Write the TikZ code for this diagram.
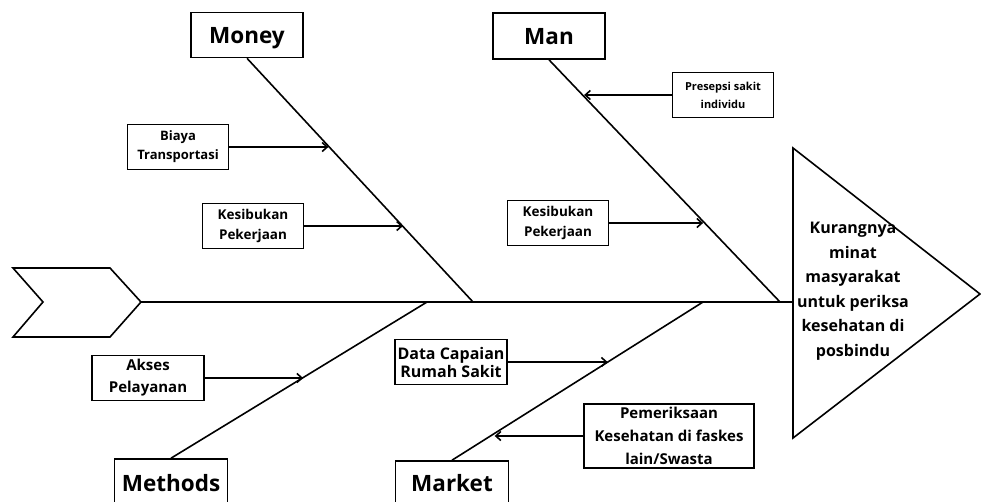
\documentclass[tikz,border=0pt]{standalone}
\usepackage{fontspec}
\setmainfont{Open Sans}
\usetikzlibrary{arrows.meta}
\begin{document}
\begin{tikzpicture}[x=1pt,y=-1pt,
	line width=1.6pt,
	cat/.style={draw,minimum width=112pt,minimum height=45pt,inner sep=0pt,text depth=0pt,font=\bfseries\fontsize{22.5}{27}\selectfont},
	cause/.style n args={3}{draw,align=center,inner sep=0pt,minimum height=45pt,minimum width=#1,font=\bfseries\fontsize{#2}{#3}\selectfont},
	bone/.style={-},
	sub/.style={-{Straight Barb[length=5pt,width=9pt]}}
	]
	\useasboundingbox (0,0) rectangle (981,501);
	
	% tail and head
	\draw (13,268) -- (110,268) -- (141,302) -- (110,337) -- (13,337) -- (43,302) -- cycle;
	\coordinate (tail) at (141,302);
	\draw (793,148) -- (980,294) -- (793,438) -- cycle;
	\coordinate (head) at (793,302);
	\node[align=center,font=\bfseries\fontsize{16}{24.5}\selectfont] (effect) at (853,291) {Kurangnya\\minat\\masyarakat\\untuk periksa\\kesehatan di\\posbindu};
	\draw[bone] (tail) -- (head);
	
	% categories
	\node[cat] (money) at (247,35) {Money};
	\node[cat,minimum height=46pt] (man) at (549,36) {Man};
	\node[cat,minimum height=48pt,minimum width=113pt] (methods) at (171,483) {Methods};
	\node[cat,minimum height=44pt,minimum width=113pt] (market) at (452,483) {Market};
	
	\coordinate (moneyEnd) at (473,302);
	\coordinate (manEnd) at (780,302);
	\coordinate (methodsEnd) at (427,302);
	\coordinate (marketEnd) at (703,302);
	
	\draw[bone] (money.south) -- (moneyEnd) coordinate[pos=0.36] (mo1) coordinate[pos=0.69] (mo2);
	\draw[bone] (man.south) -- (manEnd) coordinate[pos=0.152] (ma1) coordinate[pos=0.667] (ma2);
	\draw[bone] (methods.north) -- (methodsEnd) coordinate[pos=0.516] (me1);
	\draw[bone] (market.north) -- (marketEnd) coordinate[pos=0.62] (mk1) coordinate[pos=0.17] (mk2);
	
	% causes
	\node[cause={101pt}{13}{19}] (biaya) at (178,147) {Biaya\\Transportasi};
	\node[cause={101pt}{13.5}{20}] (sibukMoney) at (253,226) {Kesibukan\\Pekerjaan};
	\node[cause={101pt}{11}{18}] (presepsi) at (723,95) {Presepsi sakit\\individu};
	\node[cause={101pt}{13.5}{20}] (sibukMan) at (558,223) {Kesibukan\\Pekerjaan};
	\node[cause={112pt}{15}{22}] (akses) at (148,378) {Akses\\Pelayanan};
	\node[cause={112pt}{16}{18}] (dataRS) at (451,362) {Data Capaian\\Rumah Sakit};
	\node[cause={170pt}{15}{23},minimum height=64pt] (periksa) at (669,436) {Pemeriksaan\\Kesehatan di faskes\\lain/Swasta};
	
	\draw[sub] (biaya) -- (biaya -| mo1);
	\draw[sub] (sibukMoney) -- (sibukMoney -| mo2);
	\draw[sub] (presepsi) -- (presepsi -| ma1);
	\draw[sub] (sibukMan) -- (sibukMan -| ma2);
	\draw[sub] (akses) -- (akses -| me1);
	\draw[sub] (dataRS) -- (dataRS -| mk1);
	\draw[sub] (periksa) -- (periksa -| mk2);
\end{tikzpicture}
\end{document}
